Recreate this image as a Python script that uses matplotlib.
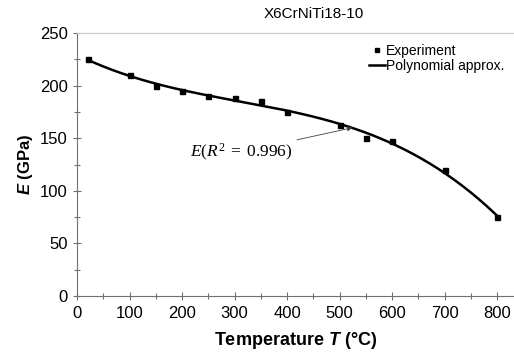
import numpy as np
import matplotlib.pyplot as plt

plt.rcParams['font.family'] = ['Liberation Sans', 'DejaVu Sans']
plt.rcParams['mathtext.fontset'] = 'custom'
plt.rcParams['mathtext.rm'] = 'Liberation Serif'
plt.rcParams['mathtext.it'] = 'Liberation Serif:italic'
plt.rcParams['mathtext.bfit'] = 'Liberation Sans:bold:italic'

# Young's modulus of X6CrNiTi18-10 vs temperature
temperature = [20, 100, 150, 200, 250, 300, 350, 400, 500, 550, 600, 700, 800]
modulus = [225, 210, 200, 195, 190, 188, 185, 175, 163, 150, 147, 120, 75]

# polynomial approximation of the measurements
coef = np.polyfit(temperature, modulus, 3)
t_fit = np.linspace(20, 800, 200)
e_fit = np.polyval(coef, t_fit)

fig = plt.figure(figsize=(5.14, 3.56), dpi=100)
ax = fig.add_axes([0.1498, 0.1685, 0.8502, 0.7385])

ax.plot(temperature, modulus, 's', color='black', markersize=3.6, label='Experiment')
ax.plot(t_fit, e_fit, '-', color='black', linewidth=1.8, label='Polynomial approx.')

ax.set_xlim(0, 832)
ax.set_ylim(0, 250)
ax.set_xticks(np.arange(0, 801, 100))
ax.set_xticks(np.arange(50, 801, 100), minor=True)
ax.set_yticks(np.arange(0, 251, 50))
ax.set_yticks(np.arange(25, 251, 50), minor=True)
ax.tick_params(which='both', direction='inout', color='#707070', labelsize=12)
ax.tick_params(which='major', length=6, width=0.8)
ax.tick_params(which='minor', length=5, width=0.8)
ax.tick_params(axis='x', pad=4)

for side in ['left', 'bottom']:
    ax.spines[side].set_color('#707070')
ax.spines['right'].set_visible(False)
ax.spines['top'].set_color('#c8c8c8')

ax.set_xlabel(r'Temperature $\boldsymbol{T}$ (°C)', fontsize=13, fontweight='bold', labelpad=7)
ax.set_ylabel(r'$\boldsymbol{E}$ (GPa)', fontsize=12, fontweight='bold', labelpad=4)

fig.text(314 / 514, 1 - 14 / 356, 'X6CrNiTi18-10', ha='center', va='center', fontsize=11)

ax.annotate(r'$E(R^2\;=\;0.996)$', xy=(524, 160), xytext=(411, 137),
            fontsize=12.5, ha='right', va='center',
            arrowprops=dict(arrowstyle='-|>', color='#404040', lw=0.6,
                            mutation_scale=7, shrinkA=1, shrinkB=0))

ax.legend(loc='upper right', bbox_to_anchor=(1.0, 0.995), frameon=False,
          fontsize=10, handlelength=1.1, handletextpad=0.1, labelspacing=0.05,
          borderaxespad=0.3, markerscale=0.85)

fig.savefig('out.png', dpi=100)
